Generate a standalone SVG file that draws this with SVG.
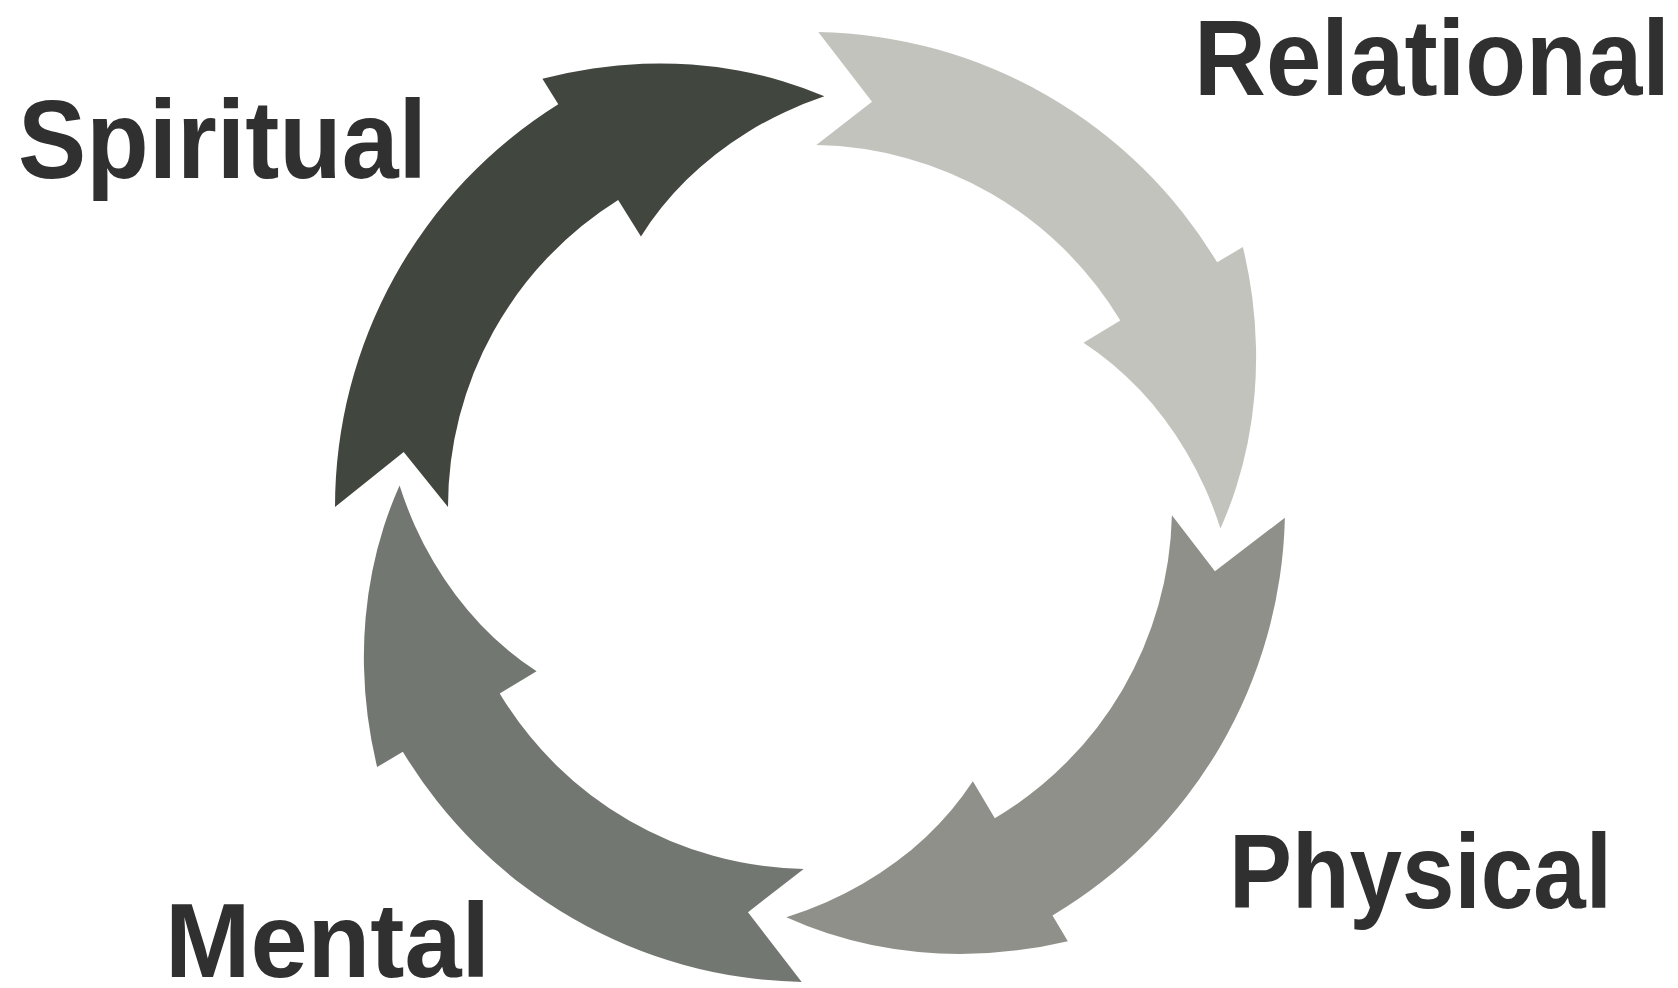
<svg xmlns="http://www.w3.org/2000/svg" xmlns:xlink="http://www.w3.org/1999/xlink" width="1678" height="988" viewBox="0 0 1678 988">
<style>
.lbl{font-family:"Liberation Sans",Arial,Helvetica,sans-serif;font-weight:bold;fill:#303030}
.s{fill:#41463f}.r{fill:#c3c3be}.p{fill:#8e9089}.m{fill:#737771}
</style>
<defs>
<path id="arrow" d="M-16.58 -474.71 A475 475 0 0 1 393.79 -265.62 L418.66 -282.39 A477 477 0 0 1 430.72 -232.24 A461 461 0 0 1 437.08 -182.54 A446 446 0 0 1 437.99 -133.91 A430 430 0 0 1 433.71 -86.93 A414 414 0 0 1 424.58 -42.13 A399 399 0 0 1 411 0 A383 383 0 0 0 393.74 -39.07 A367 367 0 0 0 372.92 -74.74 A352 352 0 0 0 349.05 -106.72 A336 336 0 0 0 322.66 -134.75 A321 321 0 0 0 294.28 -158.68 A306 306 0 0 0 264.46 -178.38 L300.11 -202.43 A362 362 0 0 0 -12.63 -361.78 L40.72 -407.97 Z"/>
</defs>
<rect width="1678" height="988" fill="#ffffff"/>
<g id="node-spiritual">
<use class="s" xlink:href="#arrow" href="#arrow" transform="translate(810 507) rotate(272)"/>
<text class="lbl" x="18" y="178" font-size="112" textLength="409" lengthAdjust="spacingAndGlyphs">Spiritual</text>
</g>
<g id="node-relational">
<use class="r" xlink:href="#arrow" href="#arrow" transform="translate(810 507) rotate(3)"/>
<text class="lbl" x="1194" y="95" font-size="107" textLength="476" lengthAdjust="spacingAndGlyphs">Relational</text>
</g>
<g id="node-physical">
<use class="p" xlink:href="#arrow" href="#arrow" transform="translate(810 507) rotate(93.3)"/>
<text class="lbl" x="1229" y="908" font-size="105" textLength="383" lengthAdjust="spacingAndGlyphs">Physical</text>
</g>
<g id="node-mental">
<use class="m" xlink:href="#arrow" href="#arrow" transform="translate(810 507) rotate(183)"/>
<text class="lbl" x="165" y="977" font-size="105" textLength="325" lengthAdjust="spacingAndGlyphs">Mental</text>
</g>
<g id="connectors"></g>
</svg>
